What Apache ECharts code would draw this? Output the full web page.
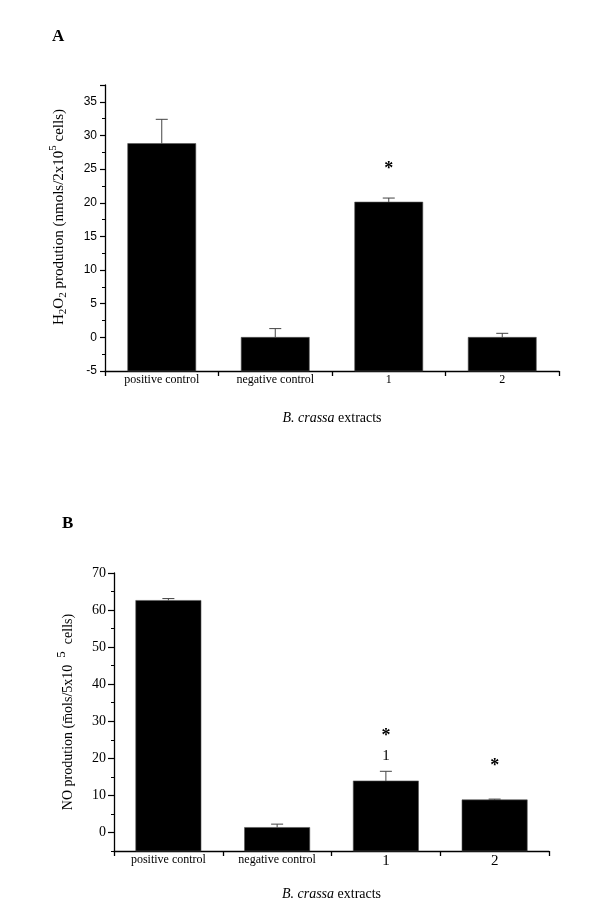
<!DOCTYPE html>
<html>
<head>
<meta charset="utf-8">
<script src="https://cdn.jsdelivr.net/npm/echarts@6/dist/echarts.min.js"></script>
<style>
  html, body { margin: 0; padding: 0; background: #fff; }
  #chart { width: 600px; height: 923px; }
</style>
</head>
<body>
<div id="chart"></div>
<script>
// categories shared by both panels
const categories = ['positive control', 'negative control', '1', '2'];

// panel A: H2O2
const h2o2Mean = [28.8, 0, 20.1, 0];
const h2o2Sd = [3.6, 1.3, 0.6, 0.6];
const h2o2Stars = [null, null, 25.0, null];
const h2o2Range = [-5, 37.5];
const h2o2Step = 5;

// panel B: NO
const noMean = [62.6, 1.35, 13.9, 8.8];
const noSd = [0.5, 0.9, 2.6, 0.2];
const noStars = [null, null, 25.8, 17.9];
const noMarks = [null, null, 20.6, null];
const noRange = [-5, 70];
const noMajor = [0, 10, 20, 30, 40, 50, 60, 70];
const noMinor = [-5, 5, 15, 25, 35, 45, 55, 65];

const serif = '"Liberation Serif", "Times New Roman", serif';
const sans = '"Liberation Sans", Arial, sans-serif';

// bars start at the bottom of the axis, not at zero
function barItem(params, api) {
  const top = api.coord([api.value(0), api.value(1)]);
  const bottom = params.coordSys.y + params.coordSys.height;
  const w = api.size([1, 0])[0] * 0.6;
  return {
    type: 'rect',
    shape: { x: top[0] - w / 2, y: top[1], width: w, height: bottom - top[1] },
    style: { fill: '#000', stroke: '#555', lineWidth: 0.6 }
  };
}

// upper whisker only
function errItem(params, api) {
  const i = api.value(0);
  const p0 = api.coord([i, api.value(1)]);
  const p1 = api.coord([i, api.value(1) + api.value(2)]);
  const cap = 6;
  return {
    type: 'group',
    children: [
      { type: 'line', shape: { x1: p0[0], y1: p0[1], x2: p1[0], y2: p1[1] }, style: { stroke: '#444', lineWidth: 1 } },
      { type: 'line', shape: { x1: p1[0] - cap, y1: p1[1], x2: p1[0] + cap, y2: p1[1] }, style: { stroke: '#444', lineWidth: 1 } }
    ]
  };
}

function textSeries(idx, values, text, font) {
  const data = [];
  values.forEach((v, i) => { if (v !== null) data.push([i, v]); });
  return {
    type: 'custom',
    xAxisIndex: idx, yAxisIndex: idx,
    data: data,
    renderItem: function (params, api) {
      const p = api.coord([api.value(0), api.value(1)]);
      return {
        type: 'text',
        x: p[0], y: p[1],
        style: { text: text, fill: '#000', font: font, align: 'center', verticalAlign: 'middle' }
      };
    }
  };
}

function pairs(arr) { return arr.map((v, i) => [i, v]); }
function triples(m, s) { return m.map((v, i) => [i, v, s[i]]); }

const axisLine = { show: true, onZero: false, lineStyle: { color: '#000', width: 1.3 } };
const nameStyle = {
  color: '#000', fontFamily: serif, fontSize: 14,
  rich: { i: { fontStyle: 'italic', fontFamily: serif, fontSize: 14 } }
};
const starFont = 'bold 18px ' + serif;

const chart = echarts.init(document.getElementById('chart'));

const option = {
  backgroundColor: '#fff',
  animation: false,
  grid: [
    { left: 105, top: 85, width: 454, height: 286 },
    { left: 114, top: 573, width: 435, height: 278 }
  ],
  xAxis: [
    {
      gridIndex: 0, type: 'category', data: categories,
      axisLine: axisLine,
      axisTick: { show: true, length: 5, lineStyle: { color: '#000', width: 1.3 } },
      axisLabel: { color: '#000', fontFamily: serif, fontSize: 12, margin: 3 },
      name: '{i|B. crassa} extracts', nameLocation: 'middle', nameGap: 40,
      nameTextStyle: nameStyle
    },
    {
      gridIndex: 1, type: 'category', data: categories,
      axisLine: axisLine,
      axisTick: { show: true, length: 5, lineStyle: { color: '#000', width: 1.3 } },
      axisLabel: {
        color: '#000', fontFamily: serif, fontSize: 12, margin: 3,
        formatter: function (v) { return v.length === 1 ? '{b|' + v + '}' : v; },
        rich: { b: { fontFamily: serif, fontSize: 15, color: '#000' } }
      },
      name: '{i|B. crassa} extracts', nameLocation: 'middle', nameGap: 36,
      nameTextStyle: nameStyle
    }
  ],
  yAxis: [
    {
      gridIndex: 0, type: 'value', min: h2o2Range[0], max: h2o2Range[1], interval: h2o2Step,
      splitLine: { show: false },
      axisLine: axisLine,
      axisTick: { show: true, length: 5, lineStyle: { color: '#000', width: 1.2 } },
      minorTick: { show: true, splitNumber: 2, length: 3, lineStyle: { color: '#000', width: 1 } },
      axisLabel: { color: '#000', fontFamily: sans, fontSize: 12, margin: 8, showMaxLabel: false },
      name: 'H{s|2}O{s|2} prodution (nmols/2x10{p|5} cells)',
      nameLocation: 'middle', nameGap: 35, nameRotate: 90,
      nameTextStyle: {
        color: '#000', fontFamily: serif, fontSize: 15, padding: [0, 0, 0, 22],
        rich: {
          s: { fontFamily: serif, fontSize: 11, padding: [9, 0, 0, 0] },
          p: { fontFamily: serif, fontSize: 11, padding: [0, 0, 11, 0] }
        }
      }
    },
    {
      gridIndex: 1, type: 'value', min: noRange[0], max: noRange[1],
      splitLine: { show: false },
      axisLine: axisLine,
      axisTick: { show: true, length: 6, customValues: noMajor, lineStyle: { color: '#000', width: 1.2 } },
      axisLabel: { color: '#000', fontFamily: serif, fontSize: 14, margin: 8, customValues: noMajor },
      name: 'NO prodution (m\u0304ols/5x10  {p|5}  cells)',
      nameLocation: 'middle', nameGap: 33, nameRotate: 90,
      nameTextStyle: {
        color: '#000', fontFamily: serif, fontSize: 14,
        rich: { p: { fontFamily: serif, fontSize: 13, padding: [0, 0, 13, 0] } }
      }
    },
    {
      // minor ticks of panel B
      gridIndex: 1, type: 'value', min: noRange[0], max: noRange[1], position: 'left',
      splitLine: { show: false },
      axisLine: { show: false },
      axisLabel: { show: false },
      axisTick: { show: true, length: 3, customValues: noMinor, lineStyle: { color: '#000', width: 1 } }
    }
  ],
  graphic: [
    { type: 'text', left: 52, top: 28, style: { text: 'A', font: 'bold 17px ' + serif, fill: '#000' } },
    { type: 'text', left: 62, top: 515, style: { text: 'B', font: 'bold 17px ' + serif, fill: '#000' } }
  ],
  series: [
    { type: 'custom', xAxisIndex: 0, yAxisIndex: 0, data: pairs(h2o2Mean), renderItem: barItem },
    { type: 'custom', xAxisIndex: 0, yAxisIndex: 0, data: triples(h2o2Mean, h2o2Sd), renderItem: errItem },
    textSeries(0, h2o2Stars, '*', starFont),
    { type: 'custom', xAxisIndex: 1, yAxisIndex: 1, data: pairs(noMean), renderItem: barItem },
    { type: 'custom', xAxisIndex: 1, yAxisIndex: 1, data: triples(noMean, noSd), renderItem: errItem },
    textSeries(1, noStars, '*', starFont),
    textSeries(1, noMarks, '1', '15px ' + serif)
  ]
};

chart.setOption(option);
</script>
</body>
</html>
